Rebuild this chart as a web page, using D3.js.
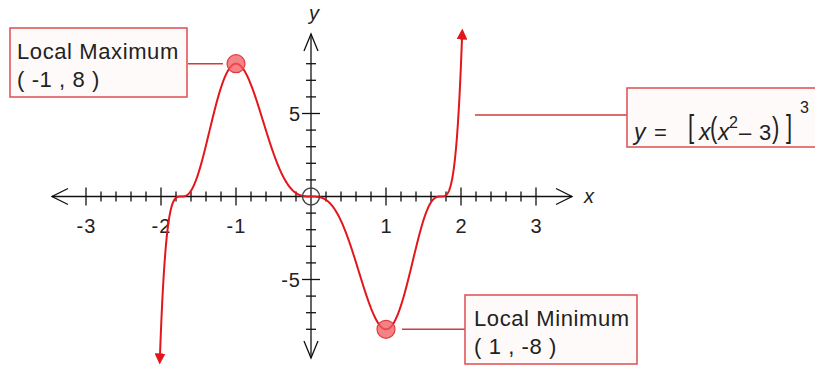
<!DOCTYPE html>
<html>
<head>
<meta charset="utf-8">
<script src="https://cdn.jsdelivr.net/npm/d3@7"></script>
<style>
  html, body { margin: 0; padding: 0; background: #fff; }
  svg { display: block; font-family: "Liberation Sans", Arial, sans-serif; }
</style>
</head>
<body>
<svg id="chart" width="815" height="367"></svg>
<script>
// Plot of y = [x(x^2 - 3)]^3 with its turning points marked
const xMajorTicks = [-3, -2, -1, 1, 2, 3];
const yMajorTicks = [-5, 5];
const yMinorTicks = [-8, -7, -6, -4, -3, -2, -1, 1, 2, 3, 4, 6, 7, 8];
const extremaX = [-1, 1];
const extremaY = [8, -8];
const extremaNames = ["Local Maximum", "Local Minimum"];
const yClip = 9.85;            // curve is cut off (with arrows) beyond |y| = 9.85

const f = x => Math.pow(x * (x * x - 3), 3);

const svg = d3.select("#chart");
const x = d3.scaleLinear().domain([-3, 3]).range([86, 536]);
const y = d3.scaleLinear().domain([-5, 5]).range([279.5, 113.5]);

const axisColor = "#111";
const red = "#e3161b";
const textColor = "#222";

// ---------- axes ----------
const ax = svg.append("g").attr("stroke", axisColor).attr("fill", "none").attr("stroke-width", 1.3);
const x0 = x(0), y0 = y(0);
ax.append("line").attr("x1", 52).attr("x2", 572).attr("y1", y0).attr("y2", y0);
ax.append("line").attr("x1", x0).attr("x2", x0).attr("y1", 34).attr("y2", 358);
// open chevron arrowheads
ax.append("path").attr("d", `M${52 + 16},${y0 - 8} L52,${y0} L${52 + 16},${y0 + 8}`);
ax.append("path").attr("d", `M${572 - 16},${y0 - 8} L572,${y0} L${572 - 16},${y0 + 8}`);
ax.append("path").attr("d", `M${x0 - 7},${34 + 17} L${x0},34 L${x0 + 7},${34 + 17}`);
ax.append("path").attr("d", `M${x0 - 7},${358 - 17} L${x0},358 L${x0 + 7},${358 - 17}`);

// x ticks: minor every 0.2, major at integers
const xMinor = d3.range(-15, 16).map(i => i / 5).filter(v => v !== 0 && !Number.isInteger(v));
ax.selectAll(".xminor").data(xMinor).join("line")
  .attr("x1", d => x(d)).attr("x2", d => x(d)).attr("y1", y0 - 5).attr("y2", y0 + 5);
ax.selectAll(".xmajor").data(xMajorTicks).join("line")
  .attr("x1", d => x(d)).attr("x2", d => x(d)).attr("y1", y0 - 9).attr("y2", y0 + 9);
ax.selectAll(".yminor").data(yMinorTicks).join("line")
  .attr("y1", d => y(d)).attr("y2", d => y(d)).attr("x1", x0 - 5).attr("x2", x0 + 5);
ax.selectAll(".ymajor").data(yMajorTicks).join("line")
  .attr("y1", d => y(d)).attr("y2", d => y(d)).attr("x1", x0 - 9).attr("x2", x0 + 9);

// tick labels
svg.append("g").selectAll("text").data(xMajorTicks).join("text")
  .attr("x", d => x(d) + 0.5).attr("y", 233).attr("text-anchor", "middle")
  .attr("font-size", 20).attr("letter-spacing", 1).attr("fill", textColor).text(d => d);
svg.append("g").selectAll("text").data(yMajorTicks).join("text")
  .attr("x", x0 - 10).attr("y", d => y(d) + 7).attr("text-anchor", "end")
  .attr("font-size", 20).attr("letter-spacing", 1).attr("fill", textColor).text(d => d);

// axis names
svg.append("text").attr("x", x0 + 3).attr("y", 20).attr("text-anchor", "middle")
  .attr("font-size", 20).attr("font-style", "italic").attr("fill", textColor).text("y");
svg.append("text").attr("x", 589).attr("y", y0 + 6).attr("text-anchor", "middle")
  .attr("font-size", 20).attr("font-style", "italic").attr("fill", textColor).text("x");

// ---------- curve ----------
// x where the curve reaches ±yClip (bisection on the rising branch beyond sqrt(3))
function solveEnd(target) {
  let lo = Math.sqrt(3), hi = 2.5;
  for (let i = 0; i < 60; i++) {
    const m = (lo + hi) / 2;
    if (f(m) < target) lo = m; else hi = m;
  }
  return (lo + hi) / 2;
}
const xEnd = solveEnd(yClip);
const xs = d3.range(-xEnd, xEnd, 0.004).concat([xEnd]);
const pts = xs.map(v => [v, f(v)]);

const defs = svg.append("defs");
defs.append("marker").attr("id", "arrow").attr("viewBox", "0 0 10 10")
  .attr("refX", 6).attr("refY", 5).attr("markerWidth", 5.5).attr("markerHeight", 5.5)
  .attr("markerUnits", "strokeWidth").attr("orient", "auto-start-reverse")
  .append("path").attr("d", "M0,0 L10,5 L0,10 Z").attr("fill", red);

const line = d3.line().x(d => x(d[0])).y(d => y(d[1]));
svg.append("path").datum(pts).attr("d", line)
  .attr("fill", "none").attr("stroke", red).attr("stroke-width", 2)
  .attr("marker-start", "url(#arrow)").attr("marker-end", "url(#arrow)");

// origin ring
svg.append("circle").attr("cx", x0).attr("cy", y0).attr("r", 8.5)
  .attr("fill", "none").attr("stroke", "#444").attr("stroke-width", 1.4);

// ---------- annotations ----------
const boxStroke = "#e0585c";
const boxFill = "#fffafa";
const leader = "#d23a3f";

// leader lines
svg.append("line").attr("x1", 188).attr("x2", x(extremaX[0]) - 13)
  .attr("y1", y(extremaY[0])).attr("y2", y(extremaY[0]))
  .attr("stroke", leader).attr("stroke-width", 1.5);
svg.append("line").attr("x1", x(extremaX[1]) + 16).attr("x2", 465)
  .attr("y1", y(extremaY[1])).attr("y2", y(extremaY[1]))
  .attr("stroke", leader).attr("stroke-width", 1.5);
svg.append("line").attr("x1", 475).attr("x2", 627).attr("y1", 115).attr("y2", 115)
  .attr("stroke", leader).attr("stroke-width", 1.5);

// extremum markers
svg.selectAll(".ext").data(extremaX).join("circle")
  .attr("cx", (d, i) => x(d)).attr("cy", (d, i) => y(extremaY[i])).attr("r", 9)
  .attr("fill", "rgba(240,90,95,0.75)").attr("stroke", "#e03a40").attr("stroke-width", 1.2);

// label boxes
const boxes = [
  { x: 10, y: 28, w: 177, h: 69, tx: 17 },
  { x: 465, y: 295, w: 172, h: 69, tx: 474 }
];
boxes.forEach((b, i) => {
  svg.append("rect").attr("x", b.x).attr("y", b.y).attr("width", b.w).attr("height", b.h)
    .attr("fill", boxFill).attr("stroke", boxStroke).attr("stroke-width", 1.6);
  const t = svg.append("text").attr("font-size", 22).attr("letter-spacing", 0.6).attr("fill", textColor);
  t.append("tspan").attr("x", b.tx).attr("y", b.y + 31).text(extremaNames[i]);
  t.append("tspan").attr("x", b.tx).attr("y", b.y + 59)
    .text(`( ${extremaX[i]} , ${extremaY[i]} )`);
});

// equation box
svg.append("rect").attr("x", 627).attr("y", 88).attr("width", 210).attr("height", 59)
  .attr("fill", boxFill).attr("stroke", boxStroke).attr("stroke-width", 1.6);
const eq = svg.append("g").attr("fill", textColor);
const base = 140;
// sy stretches the tall, thin delimiters vertically about the baseline
const glyphs = [
  { t: "y", x: 634, s: 23, it: true },
  { t: "=", x: 654, s: 22 },
  { t: "[", x: 688, s: 22, sy: 1.45, dy: -3 },
  { t: "x", x: 699, s: 23, it: true },
  { t: "(", x: 710, s: 22, sy: 1.3, dy: -2 },
  { t: "x", x: 718, s: 23, it: true },
  { t: "2", x: 729, s: 16, dy: -12 },
  { t: "\u2013", x: 739, s: 22 },
  { t: "3", x: 759, s: 22 },
  { t: ")", x: 772, s: 22, sy: 1.3, dy: -2 },
  { t: "]", x: 786, s: 22, sy: 1.45, dy: -3 },
  { t: "3", x: 800, s: 16, dy: -27 }
];
glyphs.forEach(g => {
  const by = base + (g.dy || 0);
  const t = eq.append("text").attr("x", g.x).attr("y", by)
    .attr("font-size", g.s).attr("font-style", g.it ? "italic" : "normal").text(g.t);
  if (g.sy) t.attr("transform", `translate(0,${by}) scale(1,${g.sy}) translate(0,${-by})`);
});
</script>
</body>
</html>
